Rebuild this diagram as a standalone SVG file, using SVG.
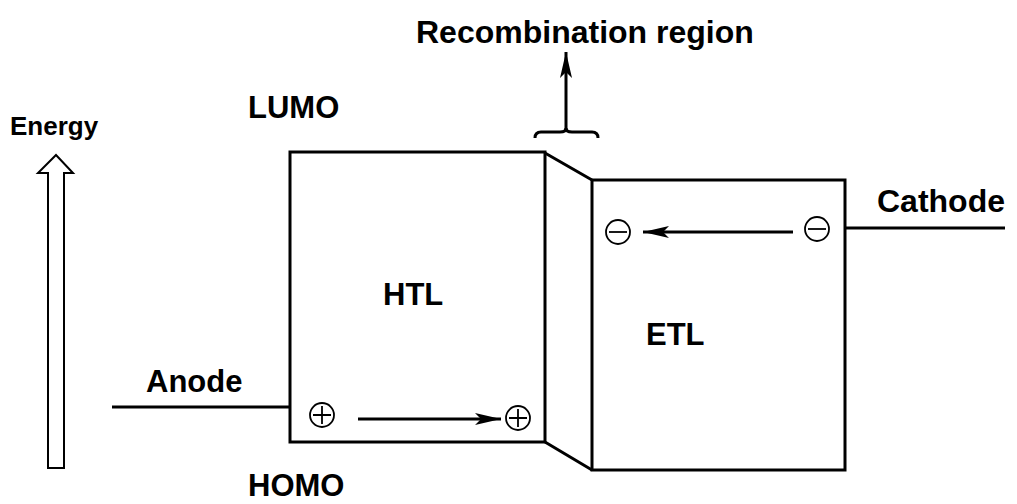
<svg xmlns="http://www.w3.org/2000/svg" width="1017" height="504" viewBox="0 0 1017 504">
<defs>
<style>
.lbl{font-family:"Liberation Sans",Arial,sans-serif;font-weight:bold;font-size:31px;fill:#000}
.box{fill:#fff;stroke:#000;stroke-width:3}
.ln{fill:none;stroke:#000;stroke-width:3}
.thin{fill:none;stroke:#000;stroke-width:1.8}
</style>
<marker id="ah" viewBox="0 0 26 12" refX="26" refY="6" markerWidth="26" markerHeight="12" markerUnits="userSpaceOnUse" orient="auto">
<path d="M0,0 L26,6 L0,12 L6,6 Z" fill="#000"/>
</marker>
<g id="plus"><circle r="12" class="thin"/><path d="M-9,0H9M0,-9V9" class="thin"/></g>
<g id="minus"><circle r="12" class="thin"/><path d="M-9,0H9" class="thin"/></g>
</defs>
<rect width="1017" height="504" fill="#fff"/>

<g id="energy">
<polygon points="48,468 48,173 38,173 56,155 73,173 64,173 64,468" fill="#fff" stroke="#000" stroke-width="2"/>
<text class="lbl" x="10" y="135" style="font-size:26px">Energy</text>
</g>

<g id="recombination">
<text class="lbl" x="416" y="43" style="font-size:32px">Recombination region</text>
<path d="M535,138 Q535,132 541,132 L560,132 Q566,132 566,128 Q566,132 572,132 L592,132 Q598,132 598,138" class="ln" stroke-width="2.5"/>
</g>

<g id="junction">
<path d="M545,153 L592,180 M545,442 L592,470" class="ln"/>
</g>

<g id="htl">
<rect x="290" y="152" width="255" height="290" class="box"/>
<text class="lbl" x="383" y="305">HTL</text>
</g>

<g id="etl">
<rect x="592" y="180" width="253" height="290" class="box"/>
<text class="lbl" x="646" y="345">ETL</text>
</g>

<g id="anode">
<path d="M112,407 H290" class="ln"/>
<text class="lbl" x="146" y="392">Anode</text>
</g>

<g id="cathode">
<path d="M845,228 H1005" class="ln"/>
<text class="lbl" x="877" y="212" style="font-size:32px">Cathode</text>
</g>

<g id="lumo"><text class="lbl" x="248" y="118">LUMO</text></g>
<g id="homo"><text class="lbl" x="248" y="496">HOMO</text></g>

<g id="holes">
<use href="#plus" x="322" y="415"/>
<use href="#plus" x="518" y="418"/>
</g>
<g id="electrons">
<use href="#minus" x="618" y="232"/>
<use href="#minus" x="817" y="229"/>
</g>

<g id="connectors">
<path d="M566,130 V52" class="ln" marker-end="url(#ah)"/>
<path d="M358,419 H501" class="ln" marker-end="url(#ah)"/>
<path d="M793,232 H643" class="ln" marker-end="url(#ah)"/>
</g>
</svg>
